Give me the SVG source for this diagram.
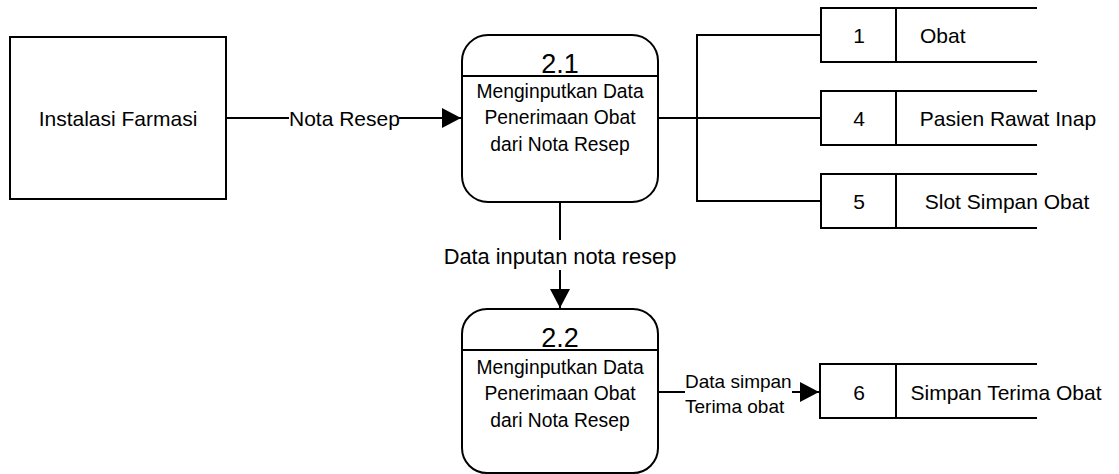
<svg xmlns="http://www.w3.org/2000/svg" width="1119" height="474" viewBox="0 0 1119 474">
<style>
.s{fill:none;stroke:#000;stroke-width:2}
.b{fill:#fff;stroke:#000;stroke-width:2}
text{font-family:"Liberation Sans",Arial,sans-serif;fill:#000}
.t21{font-size:21px}
.t22{font-size:21.8px}
.t18{font-size:19.3px}
.t17{font-size:19px}
.num{font-size:27px}
.m{text-anchor:middle}
</style>
<defs>
<marker id="arr" markerWidth="20" markerHeight="20" refX="19" refY="10" orient="auto" markerUnits="userSpaceOnUse">
<path d="M0,0 L19,10 L0,20 Z" fill="#000"/>
</marker>
</defs>
<rect width="1119" height="474" fill="#fff"/>
<g id="connectors">
<line class="s" x1="226" y1="118" x2="289" y2="118"/>
<line class="s" x1="399" y1="118" x2="461" y2="118" marker-end="url(#arr)"/>
<line class="s" x1="658" y1="118" x2="697" y2="118" stroke-width="3"/>
<line class="s" x1="697" y1="118" x2="820" y2="118"/>
<polyline class="s" points="820,35 697,35 697,201 820,201"/>
<line class="s" x1="560" y1="202" x2="560" y2="240"/>
<line class="s" x1="560" y1="270" x2="560" y2="308" marker-end="url(#arr)"/>
<line class="s" x1="658" y1="392" x2="685" y2="392"/>
<line class="s" x1="792" y1="392" x2="819" y2="392" marker-end="url(#arr)"/>
<text class="t21" x="289" y="126">Nota Resep</text>
<text class="t22 m" x="560" y="264">Data inputan nota resep</text>
<text class="t17" x="685" y="388">Data simpan</text>
<text class="t17" x="685" y="413">Terima obat</text>
</g>
<g id="instalasi-farmasi">
<rect class="b" x="10" y="37" width="216" height="162"/>
<text class="t21 m" x="118" y="126">Instalasi Farmasi</text>
</g>
<g id="proses-2-1">
<rect class="b" x="462" y="35" width="196" height="167" rx="26"/>
<line class="s" x1="462" y1="76" x2="658" y2="76"/>
<text class="num m" x="560" y="73">2.1</text>
<text class="t18 m" x="560" y="98">Menginputkan Data</text>
<text class="t18 m" x="560" y="124">Penerimaan Obat</text>
<text class="t18 m" x="560" y="151">dari Nota Resep</text>
</g>
<g id="proses-2-2">
<rect class="b" x="462" y="309" width="196" height="164" rx="25"/>
<line class="s" x1="462" y1="350" x2="658" y2="350"/>
<text class="num m" x="560" y="347">2.2</text>
<text class="t18 m" x="560" y="374">Menginputkan Data</text>
<text class="t18 m" x="560" y="400">Penerimaan Obat</text>
<text class="t18 m" x="560" y="427">dari Nota Resep</text>
</g>
<g id="store-1">
<path class="s" d="M1037,8 H821 V62 H1037 M896,8 V62"/>
<text class="t21 m" x="859" y="43">1</text>
<text class="t21" x="920" y="43">Obat</text>
</g>
<g id="store-4">
<path class="s" d="M1037,91 H821 V145 H1037 M896,91 V145"/>
<text class="t21 m" x="859" y="126">4</text>
<text class="t21 m" x="1008" y="126">Pasien Rawat Inap</text>
</g>
<g id="store-5">
<path class="s" d="M1037,174 H821 V228 H1037 M896,174 V228"/>
<text class="t21 m" x="859" y="209">5</text>
<text class="t21 m" x="1007" y="209">Slot Simpan Obat</text>
</g>
<g id="store-6">
<path class="s" d="M1037,364 H820 V418 H1037 M896,364 V418"/>
<text class="t21 m" x="859" y="400">6</text>
<text class="t21 m" x="1006" y="400">Simpan Terima Obat</text>
</g>
</svg>
